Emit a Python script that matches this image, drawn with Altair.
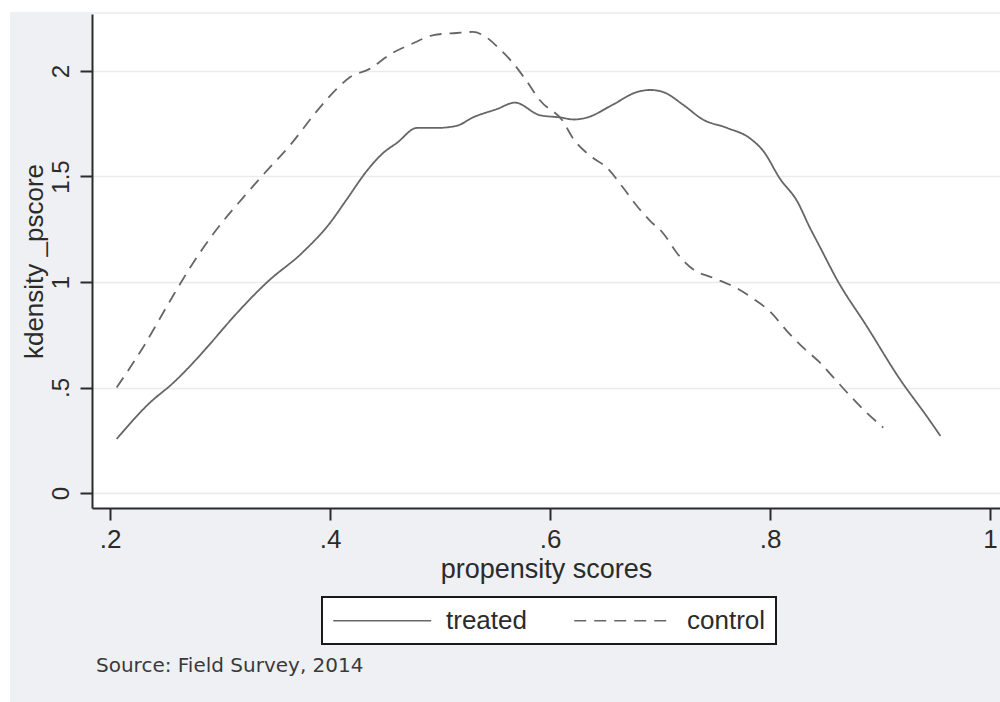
import altair as alt
import pandas as pd

# Kernel density of the propensity score, treated group
treated_x = [0.206, 0.236, 0.257, 0.294, 0.303, 0.343, 0.375, 0.400, 0.415, 0.434,
             0.448, 0.461, 0.479, 0.497, 0.515, 0.530, 0.552, 0.568, 0.591, 0.609,
             0.622, 0.634, 0.657, 0.679, 0.691, 0.703, 0.721, 0.739, 0.761, 0.782,
             0.794, 0.809, 0.825, 0.836, 0.845, 0.861, 0.888, 0.918, 0.943, 0.955]
treated_y = [0.256, 0.427, 0.52, 0.725, 0.78, 1.0, 1.14, 1.28, 1.39, 1.53,
             1.61, 1.66, 1.73, 1.73, 1.74, 1.78, 1.82, 1.85, 1.79, 1.78,
             1.77, 1.78, 1.84, 1.90, 1.91, 1.90, 1.84, 1.77, 1.73, 1.68,
             1.62, 1.49, 1.38, 1.26, 1.17, 1.01, 0.79, 0.54, 0.36, 0.27]

# Kernel density of the propensity score, control group
control_x = [0.206, 0.230, 0.2545, 0.273, 0.297, 0.321, 0.343, 0.364, 0.388, 0.409,
             0.418, 0.436, 0.455, 0.475, 0.494, 0.515, 0.530, 0.539, 0.555, 0.566,
             0.579, 0.591, 0.612, 0.621, 0.636, 0.652, 0.666, 0.679, 0.691, 0.703,
             0.715, 0.730, 0.748, 0.770, 0.785, 0.800, 0.815, 0.830, 0.845, 0.859,
             0.873, 0.888, 0.903]
control_y = [0.50, 0.69, 0.91, 1.07, 1.25, 1.40, 1.53, 1.65, 1.81, 1.93,
             1.97, 2.01, 2.08, 2.13, 2.17, 2.18, 2.185, 2.17, 2.10, 2.04,
             1.95, 1.86, 1.76, 1.68, 1.60, 1.54, 1.45, 1.36, 1.29, 1.23,
             1.14, 1.06, 1.02, 0.97, 0.92, 0.86, 0.77, 0.69, 0.62, 0.54,
             0.46, 0.38, 0.31]

groups = ["treated", "control"]
x_ticks = [0.2, 0.4, 0.6, 0.8, 1.0]
y_ticks = [0, 0.5, 1, 1.5, 2]

df = pd.concat([
    pd.DataFrame({"pscore": treated_x, "density": treated_y, "group": groups[0], "order": range(len(treated_x))}),
    pd.DataFrame({"pscore": control_x, "density": control_y, "group": groups[1], "order": range(len(control_x))}),
])

W, H = 908, 494
FONT = "Liberation Sans"
INK = "#2b2b2b"
LINE = "#666666"
PANEL = "#eff0f3"

# A long horizontal legend sample: a path running right of the symbol centre,
# so the legend rows stay as short as the label text.
SAMPLE = "M-1,0H7"

lines = alt.Chart(df).mark_line(color=LINE, strokeWidth=1.8, interpolate="monotone").encode(
    x=alt.X("pscore:Q",
            scale=alt.Scale(domain=[0.1836, 1.0091], nice=False, zero=False),
            axis=alt.Axis(values=x_ticks, grid=False, title="propensity scores",
                          labelExpr="datum.value >= 1 ? '1' : slice(format(datum.value, '.1f'), 1)",
                          labelFontSize=26, labelPadding=6,
                          titleFontSize=27, titleFontWeight="normal",
                          titleY=61, titleBaseline="middle")),
    y=alt.Y("density:Q",
            scale=alt.Scale(domain=[-0.071, 2.27], nice=False, zero=False),
            axis=alt.Axis(values=y_ticks, format="~g",
                          labelExpr="datum.value == 0.5 ? '.5' : datum.label",
                          labelAngle=270, labelAlign="center", labelBaseline="alphabetic",
                          labelFontSize=24, labelPadding=12,
                          title="kdensity _pscore", titleFontSize=26, titleFontWeight="normal",
                          titleAngle=270, titleX=-58, titleY=247,
                          titleAlign="center", titleBaseline="middle",
                          grid=True, gridColor="#ebebeb", gridWidth=1.5)),
    strokeDash=alt.StrokeDash("group:N",
                              scale=alt.Scale(domain=groups, range=[[1, 0], [12, 8]]),
                              legend=alt.Legend(title=None, orient="none", legendX=230, legendY=583,
                                                direction="horizontal", columns=2,
                                                symbolType=SAMPLE, symbolSize=600,
                                                symbolStrokeWidth=1.6, symbolStrokeColor=LINE,
                                                symbolFillColor="transparent",
                                                labelFont=FONT, labelFontSize=26, labelColor=INK,
                                                labelOffset=87, columnPadding=44,
                                                padding=10, strokeColor="#1a1a1a", fillColor="white")),
    order="order:Q",
)

# Outer white margin around the grey panel
blank = pd.DataFrame({"k": [0]})
margin_left = alt.Chart(blank).mark_rect(color="white").encode(
    x=alt.value(-92), x2=alt.value(-82), y=alt.value(-14), y2=alt.value(H + 194))
margin_top = alt.Chart(blank).mark_rect(color="white").encode(
    x=alt.value(-92), x2=alt.value(W), y=alt.value(-14), y2=alt.value(-2))

note = alt.Chart(blank).mark_text(text="Source: Field Survey, 2014", font="DejaVu Sans",
                                  fontSize=20, color="#3a3a3a", align="left",
                                  baseline="middle").encode(
    x=alt.value(4), y=alt.value(652))

chart = alt.layer(margin_left, margin_top, lines, note).properties(
    width=W, height=H,
    background=PANEL,
    autosize=alt.AutoSizeParams(type="none"),
    padding={"left": 92, "top": 14, "right": 0, "bottom": 194},
).configure_view(
    fill="white", stroke=None,
).configure_axis(
    labelFont=FONT, titleFont=FONT, labelColor=INK, titleColor=INK,
    domainColor=INK, domainWidth=2, tickColor=INK, tickWidth=2, tickSize=12,
).configure_legend(
    strokeWidth=2,
)

chart.save("out.html", embed_options={"renderer": "svg", "actions": False})
